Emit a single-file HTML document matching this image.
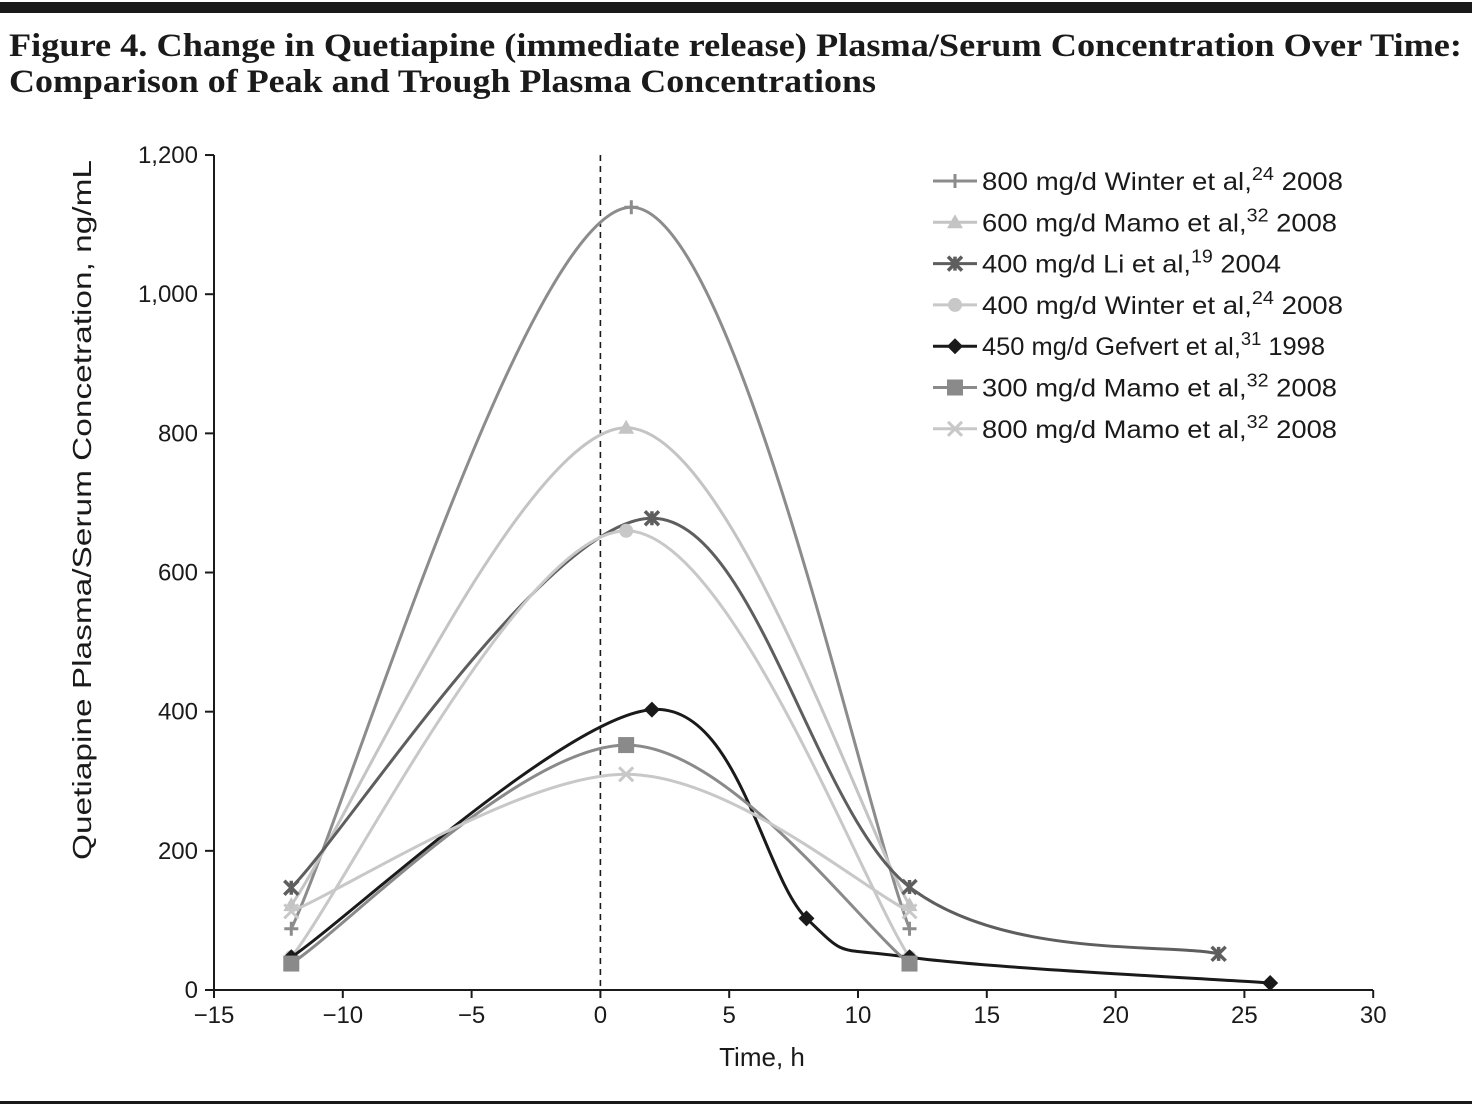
<!DOCTYPE html>
<html><head><meta charset="utf-8"><style>
body{margin:0;background:#fff;width:1472px;height:1107px;overflow:hidden;font-family:"Liberation Sans",sans-serif}
</style></head><body>
<svg width="1472" height="1107" xmlns="http://www.w3.org/2000/svg">
<rect x="0" y="2" width="1472" height="11" fill="#1a1a1a"/>
<text x="9" y="56" font-family="Liberation Serif, serif" font-size="33" font-weight="bold" fill="#1a1a1a" textLength="1453" lengthAdjust="spacingAndGlyphs">Figure 4. Change in Quetiapine (immediate release) Plasma/Serum Concentration Over Time:</text>
<text x="9" y="92" font-family="Liberation Serif, serif" font-size="33" font-weight="bold" fill="#1a1a1a" textLength="867" lengthAdjust="spacingAndGlyphs">Comparison of Peak and Trough Plasma Concentrations</text>
<rect x="0" y="1101" width="1472" height="3" fill="#1a1a1a"/>
<g id="plot"></g>
</svg>
<script>
const xTicks=[-15,-10,-5,0,5,10,15,20,25,30];
const yTicks=[0,200,400,600,800,1000,1200];
const yTickLabels=["0","200","400","600","800","1,000","1,200"];
const seriesNames=["800 mg/d Winter et al,|24| 2008","600 mg/d Mamo et al,|32| 2008","400 mg/d Li et al,|19| 2004","400 mg/d Winter et al,|24| 2008","450 mg/d Gefvert et al,|31| 1998","300 mg/d Mamo et al,|32| 2008","800 mg/d Mamo et al,|32| 2008"];
const legendWidths=[361,355,299,361,343,355,355];
const s1x=[-12,1.2,12], s1y=[88,1125,88];
const s2x=[-12,1,12], s2y=[122,808,122];
const s3x=[-12,2,12,24], s3y=[147,678,148,52];
const s4x=[-12,1,12], s4y=[47,660,47];
const s5x=[-12,2,8,12,26], s5y=[47,403,103,47,10];
const s6x=[-12,1,12], s6y=[38,352,38];
const s7x=[-12,1,12], s7y=[113,310,113];
const colors=["#8c8c8c","#c4c4c4","#5e5e5e","#c8c8c8","#1a1a1a","#8a8a8a","#c8c8c8"];
const markers=["plus","tri","star","circle","diamond","square","x"];
const allX=[s1x,s2x,s3x,s4x,s5x,s6x,s7x], allY=[s1y,s2y,s3y,s4y,s5y,s6y,s7y];
const X=v=>600.4+v*25.76, Y=v=>990-v*0.6958;
const NS="http://www.w3.org/2000/svg";
const g=document.getElementById('plot');
function mk(t,a,p){const e=document.createElementNS(NS,t);for(const k in a)e.setAttribute(k,a[k]);(p||g).appendChild(e);return e;}
let ax=mk('line',{x1:214,y1:990,x2:1373,y2:990,stroke:'#1a1a1a','stroke-width':2});

let ay=mk('line',{x1:214,y1:155,x2:214,y2:990,stroke:'#1a1a1a','stroke-width':2});

xTicks.forEach(v=>{mk('line',{x1:X(v),y1:990,x2:X(v),y2:998,stroke:'#1a1a1a','stroke-width':2});
 let t=mk('text',{x:X(v),y:1023,'text-anchor':'middle','font-size':24,fill:'#1a1a1a'});t.textContent=(v<0?'\u2212'+(-v):v);
 });
yTicks.forEach((v,i)=>{mk('line',{x1:205,y1:Y(v),x2:214,y2:Y(v),stroke:'#1a1a1a','stroke-width':2});
 let t=mk('text',{x:198,y:Y(v)+8,'text-anchor':'end','font-size':24,fill:'#1a1a1a'});t.textContent=yTickLabels[i];
 });
let xt=mk('text',{x:762,y:1066,'text-anchor':'middle','font-size':26,fill:'#1a1a1a'});xt.textContent='Time, h';

let yt=mk('text',{x:0,y:0,'text-anchor':'middle','font-size':26,fill:'#1a1a1a',textLength:700,lengthAdjust:'spacingAndGlyphs',transform:'translate(91,510) rotate(-90)'});yt.textContent='Quetiapine Plasma/Serum Concetration, ng/mL';

let dl=mk('line',{x1:X(0),y1:155,x2:X(0),y2:990,stroke:'#1a1a1a','stroke-width':1.6,'stroke-dasharray':'6,5'});

function marker(type,x,y,c,p){
 const s=7;
 if(type==='plus'){mk('path',{d:`M${x-s} ${y}H${x+s}M${x} ${y-s}V${y+s}`,stroke:c,'stroke-width':3},p);}
 else if(type==='x'){mk('path',{d:`M${x-s} ${y-s}L${x+s} ${y+s}M${x-s} ${y+s}L${x+s} ${y-s}`,stroke:c,'stroke-width':3},p);}
 else if(type==='star'){mk('path',{d:`M${x-s} ${y-s}L${x+s} ${y+s}M${x-s} ${y+s}L${x+s} ${y-s}M${x} ${y-s}V${y+s}`,stroke:c,'stroke-width':3.5},p);}
 else if(type==='tri'){mk('path',{d:`M${x} ${y-8}L${x+8} ${y+6}L${x-8} ${y+6}Z`,fill:c},p);}
 else if(type==='circle'){mk('circle',{cx:x,cy:y,r:7,fill:c},p);}
 else if(type==='diamond'){mk('path',{d:`M${x} ${y-8}L${x+8} ${y}L${x} ${y+8}L${x-8} ${y}Z`,fill:c},p);}
 else if(type==='square'){mk('rect',{x:x-8,y:y-8,width:16,height:16,fill:c},p);}
}
function spline(px,py){
 let d=`M${px[0]} ${py[0]}`;
 for(let i=0;i<px.length-1;i++){
  const x0=px[Math.max(i-1,0)],y0=py[Math.max(i-1,0)],x1=px[i],y1=py[i],x2=px[i+1],y2=py[i+1],x3=px[Math.min(i+2,px.length-1)],y3=py[Math.min(i+2,px.length-1)];
  const t=1/6;
  d+=` C${x1+(x2-x0)*t} ${y1+(y2-y0)*t} ${x2-(x3-x1)*t} ${y2-(y3-y1)*t} ${x2} ${y2}`;
 }
 return d;
}
for(let i=0;i<7;i++){
 const sg=mk('g',{});
 
 const px=allX[i].map(X), py=allY[i].map(Y);
 mk('path',{d:spline(px,py),fill:'none',stroke:colors[i],'stroke-width':3},sg);
 px.forEach((x,j)=>marker(markers[i],x,py[j],colors[i],sg));
 const ly=181+i*41.3;
 const lg=mk('g',{});
 
 mk('line',{x1:933,y1:ly,x2:977,y2:ly,stroke:colors[i],'stroke-width':3},lg);
 marker(markers[i],955,ly,colors[i],lg);
 const parts=seriesNames[i].split('|');
 const t=mk('text',{x:982,y:ly+9,'font-size':25,fill:'#1a1a1a',textLength:legendWidths[i],lengthAdjust:'spacingAndGlyphs'},lg);
 const a=mk('tspan',{},t);a.textContent=parts[0];
 const b=mk('tspan',{dy:-10,'font-size':18},t);b.textContent=parts[1];
 const c=mk('tspan',{dy:10,'font-size':25},t);c.textContent=' '+parts[2];
}
</script>
</body></html>
